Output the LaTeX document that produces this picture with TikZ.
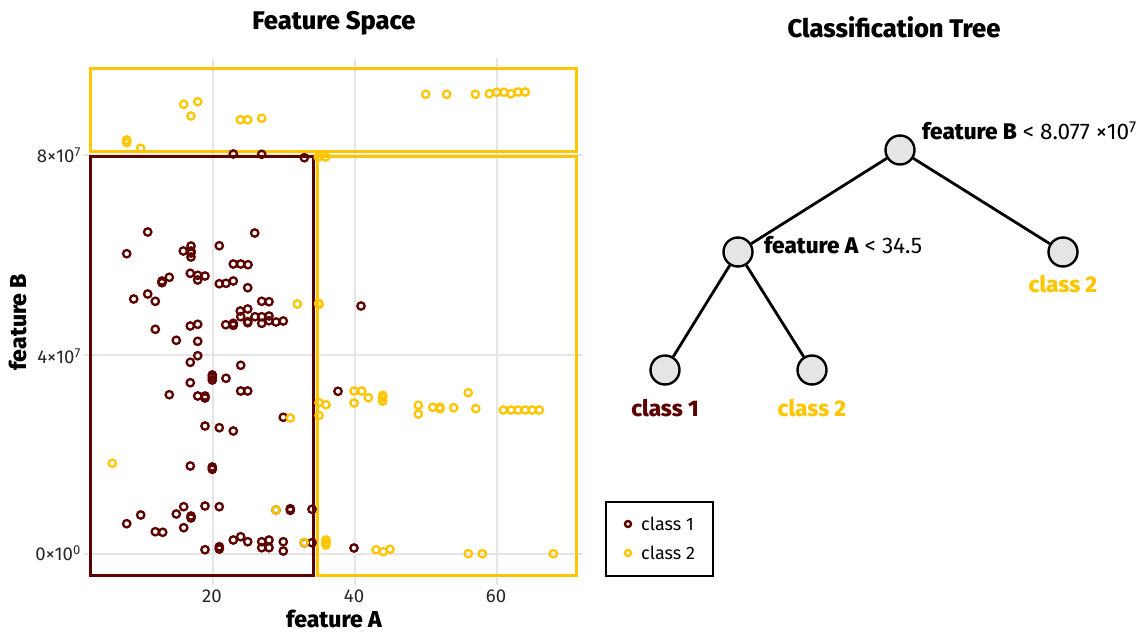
\documentclass[tikz,border=0pt]{standalone}
\usepackage{fontspec}
\setmainfont{Fira Sans}[BoldFont={Fira Sans ExtraBold}]
\definecolor{cmaroon}{RGB}{92,0,0}
\definecolor{cgold}{RGB}{255,198,0}
\definecolor{cgrid}{RGB}{229,229,229}
\definecolor{cnode}{RGB}{229,229,229}
\tikzset{
  gridline/.style={draw=cgrid, line width=1.6pt},
  region/.style={line width=3pt},
  pt1/.style={draw=cmaroon, line width=2.3pt},
  pt2/.style={draw=cgold, line width=2.3pt},
  treenode/.style={circle, draw=black, fill=cnode, line width=2.4pt, minimum size=29pt, inner sep=0pt},
  treeedge/.style={draw=black, line width=2.8pt},
  ticklbl/.style={font=\fontsize{18.6}{22}\selectfont, text=black!85},
  titlelbl/.style={font=\fontsize{25.5}{30}\selectfont\bfseries},
  axislbl/.style={font=\fontsize{23}{27}\selectfont\bfseries},
  splitlbl/.style={font=\fontsize{22.6}{27}\selectfont, anchor=west, inner sep=0pt},
  leaflbl/.style={font=\fontsize{22.6}{27}\selectfont\bfseries},
  legendlbl/.style={font=\fontsize{18}{21}\selectfont, anchor=west, inner sep=0pt}
}
\begin{document}
\begin{tikzpicture}[x=1pt,y=-1pt]
\useasboundingbox (0,0) rectangle (1146,637);

% ---------- feature space panel ----------
\node[titlelbl] (title1) at (334,23) {Feature Space};

% grid
\foreach \gx in {213,355,497} \draw[gridline] (\gx,58) -- (\gx,585);
\foreach \gy in {155,355,554} \draw[gridline] (84,\gy) -- (583,\gy);

% tick labels
\node[ticklbl] (tx20) at (212,596) {20};
\node[ticklbl] (tx40) at (354,596) {40};
\node[ticklbl] (tx60) at (496,596) {60};
\node[ticklbl, anchor=east, inner sep=0pt] (ty8) at (81,155) {8×10\textsuperscript{7}};
\node[ticklbl, anchor=east, inner sep=0pt] (ty4) at (81,356) {4×10\textsuperscript{7}};
\node[ticklbl, anchor=east, inner sep=0pt] (ty0) at (81,553) {0×10\textsuperscript{0}};

\node[axislbl, inner sep=0pt] (xlab) at (334,619) {feature A};
\node[axislbl, rotate=90, inner sep=0pt] (ylab) at (18,322) {feature B};

% partition regions
\draw[region, draw=cgold] (90,68.5) rectangle (576,151);
\draw[region, draw=cgold] (317,156.5) rectangle (576,575);
\draw[region, draw=cmaroon] (90,156.5) rectangle (313.5,575);

% class 1 observations
\foreach \px/\py in {
233.3/154,261.7/154.3,304.3/157.7,
147.7/232,254.7/233,126.7/253.7,191/246,183.3/251,191/251,191/253,191/257,219.3/245.7,
233.3/264,240.7/264,248/264.7,
190.3/273.3,197.7/275.3,205/276,197.7/280,
169.3/277.3,162/281,162/282.7,
219.3/283.7,226/283.3,233.3/281,247.7/287.7,
147.7/294,133.7/299,155.3/301.3,261.7/301.3,269/301.7,
240.3/311,247.7/309,240.7/316.7,255/316.7,261.7/316.7,269/316,
225.7/324.7,233.3/323.3,233.3/325.3,247.7/322.7,247.7/321.7,
261.7/323.3,269/320.7,276/322,283.3/321,
190.3/326,197.7/324.3,155.3/329.3,176.3/340.3,197.7/341.3,
197.7/355.7,190.3/362.3,240.7/365.3,
212.3/375,212.3/377.3,212.3/380,226/378.3,190.3/382.7,240.7/391,247.7/391,169.3/394.7,197.7/396,205/396,205/398,
338/391.3,283.3/417.3,205/426,219.3/427.7,233.3/431,
190.3/466,212.3/467,212.3/469.3,
183.7/506.7,205/506,219.3/506.7,140.7/515,176.3/514,191/516,191/518,126.7/523.7,183.7/527.7,155.3/531.7,162.7/532.3,
276/510,290.3/508.7,290.3/510.3,312/509.3,
233.3/540,240.7/536.7,247.7/541.7,261.7/541.7,261.7/547.7,269/540,269/547.7,283.3/541.7,283.3/551,205/549.7,219.3/546.7,219.3/549,304.3/542.7,312/542.7,
361/306,354/548}
  \draw[pt1] (\px,\py) circle (3.7);

% class 2 observations
\foreach \px/\py in {
126.7/140,126.7/142.7,140.7/148.3,183.7/104.3,197.7/101.7,191/116,240.3/119.7,247.7/119.7,261.7/118.3,
425.7/94.3,446.7/94.3,475.3/94.3,489.3/93.7,496.7/92.3,504/92.3,511/93.7,518/92,525.3/92,
318.3/157,325.7/157,
297.3/304,318.7/303.3,319/304.5,
319/402.7,326/404.7,319/415.5,290.3/418,
112.3/463.3,
276/510,
304.3/542.5,326/540,326/542.7,326/545,
354/391,361.7/391,368.3/397.7,382.7/395.3,382.7/397.7,382.7/401,354/403,
418.3/405.3,418.3/414,432.7/407.3,440/407.3,440/408.7,453.7/407.7,468.3/392.7,475.7/408.7,
503.3/410,511/410,518/410,525.3/410,532.3/410,539.3/410,
376/549.7,383.3/551.7,390/549.3,468.3/553.7,482.3/553.7,553.3/553.7}
  \draw[pt2] (\px,\py) circle (3.7);

% legend
\node[draw=black, line width=1.6pt, minimum width=107pt, minimum height=74pt, inner sep=0pt] (legend) at (659.5,539) {};
\draw[pt1, line width=2.4pt] (628,524) circle (3);
\node[legendlbl] (leg1) at (641,524) {class 1};
\draw[pt2, line width=2.4pt] (628,553) circle (3);
\node[legendlbl] (leg2) at (641,553) {class 2};

% ---------- classification tree ----------
\node[titlelbl] (title2) at (894,27) {Classification Tree};

\node[treenode] (root) at (900,150) {};
\node[treenode] (splitA) at (738,252) {};
\node[treenode] (leafR) at (1063,252) {};
\node[treenode] (leaf1) at (665,370) {};
\node[treenode] (leaf2) at (812,370) {};

\draw[treeedge] (root) -- (splitA);
\draw[treeedge] (root) -- (leafR);
\draw[treeedge] (splitA) -- (leaf1);
\draw[treeedge] (splitA) -- (leaf2);

\node[splitlbl] (lblB) at (922,131) {\textbf{feature B} < 8.077 ×10\textsuperscript{7}};
\node[splitlbl] (lblA) at (764,245) {\textbf{feature A} < 34.5};

\node[leaflbl, text=cgold] (lblR) at (1063,284) {class 2};
\node[leaflbl, text=cmaroon] (lbl1) at (665,408) {class 1};
\node[leaflbl, text=cgold] (lbl2) at (812,408) {class 2};
\end{tikzpicture}
\end{document}
